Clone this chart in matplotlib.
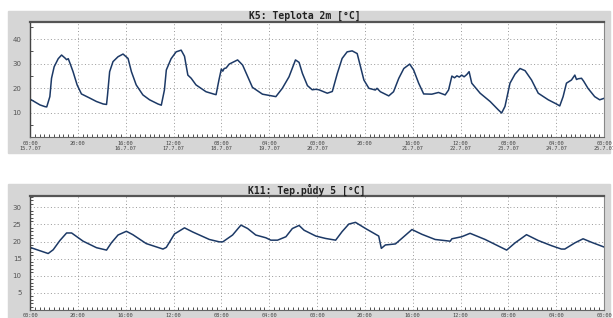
import numpy as np
import matplotlib
matplotlib.use('Agg')
import matplotlib.pyplot as plt
from matplotlib.patches import Rectangle
from matplotlib.ticker import MultipleLocator

# hours since 15.7. 00:00 and values
t2m_hours = [0, 4.2, 6.3, 7, 8.3, 9, 10.1, 11.8, 13.2, 14.6, 15.3, 16, 17, 18, 19.7, 21.5,
             25, 27.8, 30.6, 32, 32.4, 33.3, 34.7, 36.8, 38.9, 41, 42.4, 44.4, 47.2, 50,
             53.5, 54.9, 56.2, 57, 59, 61.1, 63.2, 64.6, 66, 67.4, 69.4, 73.6, 77, 77.8,
             79, 80, 80.6, 81.2, 82, 83.3, 86.8, 88.9, 93, 97.2, 102.8, 105.5, 108.3, 111,
             112.5, 113.9, 116, 118, 119.5, 120.8, 124.3, 126.4, 128.5, 130.5, 132.6,
             134.7, 136.8, 138.2, 139.6, 141.7, 144.4, 145.1, 146.5, 150, 152, 154.2,
             156.3, 158.75, 160.4, 162.5, 164.6, 168, 170.8, 173.6, 175, 176.4, 177.5,
             178.5, 179.5, 180.5, 181.5, 182.6, 183.6, 184.7, 188.2, 192.4, 195.8, 197.2,
             198.6, 200.7, 202.8, 204.9, 207, 209.7, 212.5, 216.7, 220.1, 221.5, 222.9,
             224.3, 226.4, 227.8, 228.5, 229.2, 230.6, 231.5, 233.3, 236.1, 238.2, 240]
t2m_values = [15.5, 13.1, 12.4, 12.3, 16.5, 24, 28.7, 32, 33.5, 32.3, 31.6, 32, 29.4, 26.7,
              21.3, 17.6, 15.9, 14.5, 13.5, 13.3, 17, 26.7, 30.8, 32.8, 33.9, 32.1, 26.7,
              21.3, 17.2, 15.2, 13.5, 13.0, 19.2, 27.4, 32, 34.8, 35.5, 33, 25.3, 24, 21.3,
              18.5, 17.5, 17.3, 23.3, 27.8, 26.9, 28, 28.2, 29.8, 31.5, 29.4, 20.3, 17.5,
              16.5, 19.9, 24.6, 31.5, 30.5, 26, 21, 19.3, 19.5, 19.3, 17.9, 18.6, 26, 32.1,
              34.8, 35.2, 34.1, 28.7, 23.3, 19.9, 19.2, 19.9, 18.5, 16.8, 18.5, 24, 28,
              29.8, 27.4, 22, 17.6, 17.5, 18.2, 17.2, 19.2, 24.9, 24.2, 25.0, 24.5, 25.3,
              24.6, 25.5, 26.7, 22, 17.9, 14.5, 11.1, 9.8, 12.5, 22, 25.7, 28, 27.1, 23.3,
              17.9, 15.2, 13.5, 12.7, 16.5, 22, 23.3, 25.3, 23.5, 23.8, 24, 22.8, 19.9,
              16.5, 15.2, 15.8]

soil_hours = [0, 4.2, 7.6, 9.7, 12.5, 15.3, 17.4, 22.2, 27.8, 32, 34, 36.8, 40.3, 43, 48.6,
              55.6, 57, 60.4, 64.6, 68, 75, 79.2, 80.6, 84.7, 88.2, 91, 94.4, 98.6, 100.7,
              103.5, 107, 109.7, 112.5, 114.6, 119.5, 123.6, 127.8, 130.5, 133.3, 136.1,
              140.3, 145.8, 146.9, 148.6, 152.8, 155.6, 159.7, 163.9, 169.4, 175.7, 176.4,
              180.5, 184, 190.3, 195.8, 199.3, 202.8, 207.6, 212.5, 218, 222.2, 223.6,
              227.8, 231.25, 234.7, 240]
soil_values = [18.3, 17.3, 16.5, 17.6, 20.3, 22.5, 22.5, 20.1, 18.2, 17.5, 19.6, 21.9, 23,
               22, 19.4, 17.8, 18.3, 22.2, 24, 22.8, 20.6, 19.9, 19.9, 21.9, 24.8, 23.8,
               21.9, 21.1, 20.4, 20.4, 21.4, 23.8, 24.7, 23.3, 21.6, 20.9, 20.4, 22.9, 25.1,
               25.6, 23.8, 21.6, 18, 19, 19.3, 21, 23.5, 22.1, 20.6, 20.1, 20.8, 21.4, 22.4,
               20.6, 18.7, 17.5, 19.6, 22, 20.3, 18.8, 17.8, 17.8, 19.6, 20.8, 19.8, 18.4]

x_ticks = [0, 20, 40, 60, 80, 100, 120, 140, 160, 180, 200, 220, 240]
x_labels = ['00:00\n15.7.07', '20:00', '16:00\n16.7.07', '12:00\n17.7.07', '08:00\n18.7.07',
            '04:00\n19.7.07', '00:00\n20.7.07', '20:00', '16:00\n21.7.07', '12:00\n22.7.07',
            '08:00\n23.7.07', '04:00\n24.7.07', '00:00\n25.7.07']

W, H = 613.0, 318.0
LINE = '#1c3966'


def panel(fig, top, bottom, hours, values, ylim, yticks, yminor, pad):
    ax = fig.add_axes([30 / W, 1 - bottom / H, 574 / W, (bottom - top) / H])
    ax.set_zorder(2)
    ax.set_facecolor('white')
    ax.plot(hours, values, color=LINE, lw=1.1)
    ax.set_xlim(0, 240)
    ax.set_ylim(ylim)
    ax.set_xticks(x_ticks)
    ax.set_xticklabels(x_labels, family='DejaVu Sans Mono', fontsize=3.8,
                       linespacing=1.0, color='#444')
    ax.xaxis.set_minor_locator(MultipleLocator(2))
    ax.set_yticks(yticks)
    ax.set_yticklabels([str(v) for v in yticks], fontsize=5, color='#555')
    ax.yaxis.set_minor_locator(MultipleLocator(yminor))
    ax.tick_params(which='both', direction='in', length=2.5, width=0.6, color='#333')
    ax.tick_params(axis='x', which='major', length=0, pad=pad)
    ax.tick_params(axis='y', which='major', length=0, pad=6)
    ax.grid(True, which='major', color='#999999', linestyle=(0, (1, 2.5)), lw=0.7)
    ax.spines['top'].set_linewidth(1.6)
    ax.spines['top'].set_color('#555')
    ax.spines['left'].set_linewidth(1.0)
    ax.spines['left'].set_color('#444')
    ax.spines['bottom'].set_linewidth(0.8)
    ax.spines['bottom'].set_color('#666')
    ax.spines['right'].set_linewidth(0.8)
    ax.spines['right'].set_color('#888')
    return ax


fig = plt.figure(figsize=(W / 100, H / 100), dpi=100)
fig.patch.set_facecolor('white')
fig.patches.append(Rectangle((8 / W, 1 - 153 / H), 602 / W, 142 / H,
                             transform=fig.transFigure, color='#d6d6d6', zorder=-1))
fig.patches.append(Rectangle((8 / W, 0), 602 / W, 134 / H,
                             transform=fig.transFigure, color='#d6d6d6', zorder=-1))

panel(fig, 22, 137, t2m_hours, t2m_values, (0, 47), [10, 20, 30, 40], 5, 3)
panel(fig, 196, 310, soil_hours, soil_values, (0, 33.3), [5, 10, 15, 20, 25, 30], 1, 2.5)

fig.text(305 / W, 1 - 16 / H, 'K5: Teplota 2m [°C]', ha='center', va='center',
         family='DejaVu Sans Mono', fontsize=7, weight='bold', color='#222')
fig.text(307 / W, 1 - 190 / H, 'K11: Tep.půdy 5 [°C]', ha='center', va='center',
         family='DejaVu Sans Mono', fontsize=7, weight='bold', color='#222')

plt.savefig('out.png', dpi=100, facecolor='white')
